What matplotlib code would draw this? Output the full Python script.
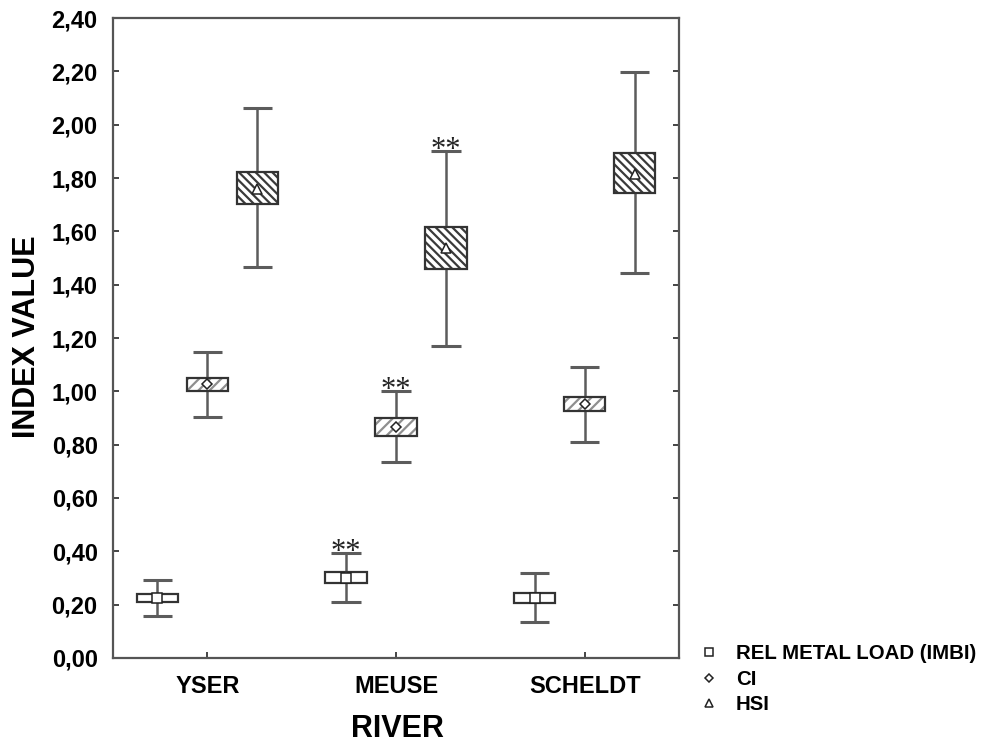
import numpy as np
import matplotlib.pyplot as plt
from matplotlib.lines import Line2D

plt.rcParams['font.family'] = ['Liberation Sans', 'DejaVu Sans']
plt.rcParams['hatch.linewidth'] = 1.6

rivers = ['YSER', 'MEUSE', 'SCHELDT']
labels = ['REL METAL LOAD (IMBI)', 'CI', 'HSI']

# mean, box (low/high) and whisker (low/high) per river
imbi_mean = [0.225, 0.300, 0.225]
imbi_box_lo = [0.209, 0.280, 0.206]
imbi_box_hi = [0.239, 0.324, 0.244]
imbi_whis_lo = [0.159, 0.211, 0.135]
imbi_whis_hi = [0.293, 0.393, 0.319]

ci_mean = [1.027, 0.867, 0.953]
ci_box_lo = [1.001, 0.834, 0.926]
ci_box_hi = [1.051, 0.899, 0.979]
ci_whis_lo = [0.904, 0.734, 0.810]
ci_whis_hi = [1.147, 1.002, 1.091]

hsi_mean = [1.760, 1.537, 1.815]
hsi_box_lo = [1.701, 1.458, 1.744]
hsi_box_hi = [1.824, 1.615, 1.894]
hsi_whis_lo = [1.466, 1.171, 1.444]
hsi_whis_hi = [2.061, 1.900, 2.197]

# rivers marked as significantly different
signif = ['MEUSE']

yticks = np.arange(0, 2.41, 0.2)

series = [
    (imbi_mean, imbi_box_lo, imbi_box_hi, imbi_whis_lo, imbi_whis_hi),
    (ci_mean, ci_box_lo, ci_box_hi, ci_whis_lo, ci_whis_hi),
    (hsi_mean, hsi_box_lo, hsi_box_hi, hsi_whis_lo, hsi_whis_hi),
]
offsets = [-0.265, 0.0, 0.265]
markers = ['s', 'D', '^']
msizes = [7, 5.5, 7]
hatches = [None, '///', '\\\\\\\\']
hatch_cols = [None, '#8f8f8f', '#3a3a3a']

box_w = 0.22
cap_w = 0.155
whis_col = '#5c5c5c'
edge_col = '#333333'

fig = plt.figure(figsize=(9.86, 7.45), dpi=100)
ax = fig.add_axes([0.1146, 0.1168, 0.574, 0.859])

x = np.arange(1, len(rivers) + 1)
for k, (mean, blo, bhi, wlo, whi) in enumerate(series):
    xs = x + offsets[k]
    mean = np.array(mean)
    blo, bhi = np.array(blo), np.array(bhi)
    wlo, whi = np.array(wlo), np.array(whi)
    # whiskers and caps
    ax.vlines(xs, wlo, blo, color=whis_col, lw=1.8, zorder=2)
    ax.vlines(xs, bhi, whi, color=whis_col, lw=1.8, zorder=2)
    ax.hlines(wlo, xs - cap_w / 2, xs + cap_w / 2, color=whis_col, lw=2.2, zorder=2)
    ax.hlines(whi, xs - cap_w / 2, xs + cap_w / 2, color=whis_col, lw=2.2, zorder=2)
    # boxes
    if hatches[k]:
        ax.bar(xs, bhi - blo, bottom=blo, width=box_w, color='white',
               edgecolor=hatch_cols[k], hatch=hatches[k], lw=0, zorder=3)
        ax.bar(xs, bhi - blo, bottom=blo, width=box_w, fill=False,
               edgecolor=edge_col, lw=1.6, zorder=4)
    else:
        ax.bar(xs, bhi - blo, bottom=blo, width=box_w, color='white',
               edgecolor=edge_col, lw=1.6, zorder=3)
        ax.vlines(xs, blo, bhi, color=whis_col, lw=1.6, zorder=3.5)
    ax.plot(xs, mean, ls='none', marker=markers[k], ms=msizes[k],
            mfc='white', mec='#222222', mew=1.1, zorder=5)
    for i, r in enumerate(rivers):
        if r in signif:
            ax.annotate('**', (xs[i], whi[i]), xytext=(0, -5),
                        textcoords='offset points', ha='center', va='baseline',
                        fontsize=22, family=['Liberation Serif', 'DejaVu Serif'],
                        color='#222222', zorder=6)

ax.set_xlim(0.5, 3.5)
ax.set_ylim(0, 2.4)
ax.set_xticks(x)
ax.set_xticklabels(rivers)
ax.set_yticks(yticks)
ax.set_yticklabels([f'{v:.2f}'.replace('.', ',') for v in yticks])

for s in ax.spines.values():
    s.set_color('#555555')
    s.set_linewidth(1.6)
ax.tick_params(axis='both', direction='in', length=4, width=1.4,
               color='#444444', labelsize=17)
ax.tick_params(axis='y', right=True, pad=11)
ax.tick_params(axis='x', pad=12)
for t in ax.get_xticklabels() + ax.get_yticklabels():
    t.set_fontweight('bold')

fig.text(0.027, 0.548, 'INDEX VALUE', rotation=90, ha='center', va='center',
         fontsize=22, fontweight='bold')
fig.text(0.4026, 0.021, 'RIVER', ha='center', va='center',
         fontsize=22, fontweight='bold')

leg_handles = [Line2D([], [], ls='none', marker=m, ms=ms - 1, mfc='white',
                      mec='#222222', mew=1.1) for m, ms in zip(markers, msizes)]
fig.legend(leg_handles, labels, loc='upper left', bbox_to_anchor=(0.702, 0.146),
           frameon=False, handlelength=0.8, handletextpad=0.95, labelspacing=0.32,
           prop={'size': 14.7, 'weight': 'bold'}, borderaxespad=0)

fig.savefig('out.png', dpi=100)
